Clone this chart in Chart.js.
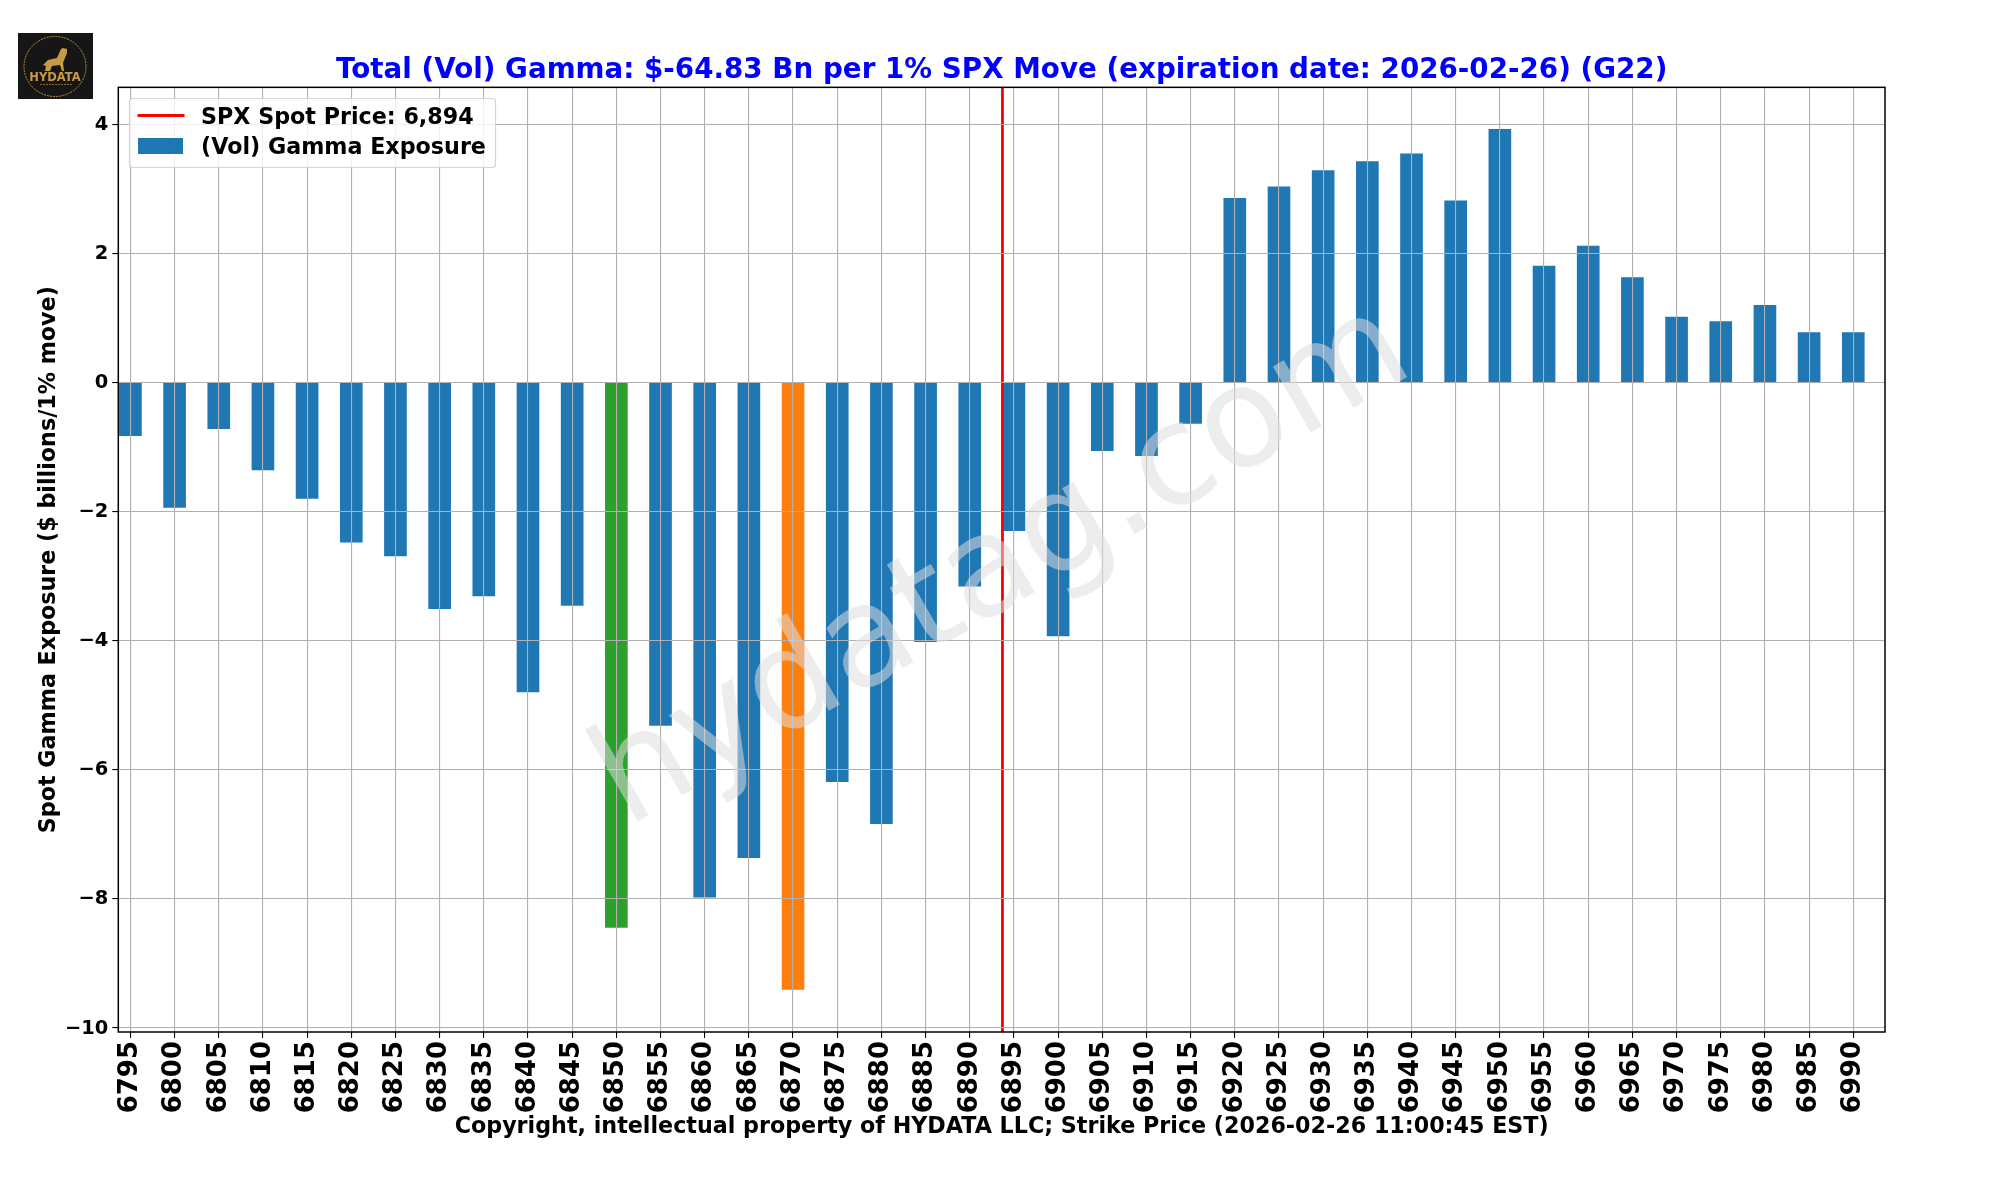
<!DOCTYPE html>
<html>
<head>
<meta charset="utf-8">
<title>Total (Vol) Gamma</title>
<style>
  html, body { margin: 0; padding: 0; background: #fff; }
  #wrap { width: 2000px; height: 1200px; }
</style>
<script src="https://cdn.jsdelivr.net/npm/chart.js@4"></script>
</head>
<body>
<div id="wrap"><canvas id="myChart" width="2000" height="1200"></canvas></div>
<script>
// data
const strikes = [6795, 6800, 6805, 6810, 6815, 6820, 6825, 6830, 6835, 6840,
  6845, 6850, 6855, 6860, 6865, 6870, 6875, 6880, 6885, 6890,
  6895, 6900, 6905, 6910, 6915, 6920, 6925, 6930, 6935, 6940,
  6945, 6950, 6955, 6960, 6965, 6970, 6975, 6980, 6985, 6990];
const gammaValues = [-0.83, -1.94, -0.72, -1.36, -1.8, -2.48, -2.69, -3.51, -3.31, -4.8,
  -3.46, -8.45, -5.32, -7.98, -7.37, -9.41, -6.19, -6.84, -4.02, -3.16,
  -2.3, -3.93, -1.06, -1.14, -0.64, 2.85, 3.03, 3.28, 3.42, 3.54,
  2.81, 3.92, 1.8, 2.11, 1.62, 1.01, 0.94, 1.19, 0.77, 0.77];
const yTicks = [-10, -8, -6, -4, -2, 0, 2, 4];
const spotX = [6893.7, 6893.7];
const spotY = [-10.07, 4.57];
const minStrike = 6850;
const maxStrike = 6870;

const titleText = "Total (Vol) Gamma: $-64.83 Bn per 1% SPX Move (expiration date: 2026-02-26) (G22)";
const xTitle = "Copyright, intellectual property of HYDATA LLC; Strike Price (2026-02-26 11:00:45 EST)";
const yTitle = "Spot Gamma Exposure ($ billions/1% move)";
const spotLabel = "SPX Spot Price: 6,894";
const barLabel = "(Vol) Gamma Exposure";

const FONT = "'DejaVu Sans'";
const BLUE = "#1f77b4";

let barColors = strikes.map(s => s === minStrike ? "#2ca02c" : s === maxStrike ? "#ff7f0e" : BLUE);

// frame, logo, legend and watermark go on top of the chart
const overlay = {
  id: "overlay",
  afterDraw(chart) {
    const c = chart.ctx;
    const a = chart.chartArea;
    c.save();

    // spines
    c.strokeStyle = "#000";
    c.lineWidth = 1.5;
    c.strokeRect(a.left, a.top, a.right - a.left, a.bottom - a.top);

    // legend
    c.beginPath();
    c.roundRect(129.5, 98.5, 366, 69, 3);
    c.fillStyle = "rgba(255,255,255,0.8)";
    c.fill();
    c.strokeStyle = "rgba(204,204,204,0.8)";
    c.lineWidth = 1.2;
    c.stroke();
    c.strokeStyle = "#ff0000";
    c.lineWidth = 2.8;
    c.beginPath();
    c.moveTo(137.5, 115.5);
    c.lineTo(184.5, 115.5);
    c.stroke();
    c.fillStyle = BLUE;
    c.fillRect(138, 138, 45, 16);
    c.fillStyle = "#000";
    c.font = "bold 22.22px " + FONT;
    c.textAlign = "left";
    c.textBaseline = "middle";
    c.fillText(spotLabel, 201, 118);
    c.fillText(barLabel, 201, 148);

    // logo
    c.fillStyle = "#161616";
    c.fillRect(18, 33, 75, 66);
    c.strokeStyle = "#b8923f";
    c.lineWidth = 1;
    c.setLineDash([2, 1]);
    c.beginPath();
    c.ellipse(55, 66.5, 31, 30, 0, 0, Math.PI * 2);
    c.stroke();
    c.setLineDash([]);
    c.fillStyle = "#c79a45";
    c.beginPath();
    [[43, 65], [48, 60], [57, 58], [61, 49], [63, 48], [67, 49], [67, 53], [65, 58],
     [63, 63], [64, 71], [62, 71], [60, 65], [52, 66], [50, 71], [45, 71], [46, 66]]
      .forEach((p, i) => i ? c.lineTo(p[0], p[1]) : c.moveTo(p[0], p[1]));
    c.closePath();
    c.fill();
    c.font = "bold 11.5px " + FONT;
    c.textAlign = "center";
    c.fillText("HYDATA", 55, 78);
    c.strokeStyle = "#8a6d33";
    c.setLineDash([2, 1]);
    c.beginPath();
    c.moveTo(40, 84.5);
    c.lineTo(72, 84.5);
    c.stroke();
    c.setLineDash([]);

    // watermark
    c.translate(1004, 568);
    c.rotate(-30 * Math.PI / 180);
    c.fillStyle = "rgba(222,222,222,0.54)";
    c.font = "139px " + FONT;
    c.textAlign = "center";
    c.fillText("hydatag.com", 0, 0);
    c.restore();
  }
};

new Chart("myChart", {
  type: "bar",
  data: {
    datasets: [{
      type: "line",
      label: spotLabel,
      data: spotX.map((x, i) => ({ x: x, y: spotY[i] })),
      borderColor: "#ff0000",
      borderWidth: 2.8,
      pointRadius: 0,
      order: 0
    }, {
      label: barLabel,
      data: strikes.map((s, i) => ({ x: s, y: gammaValues[i] })),
      backgroundColor: barColors,
      barThickness: 22,
      order: 1
    }]
  },
  plugins: [overlay],
  options: {
    responsive: false,
    animation: false,
    devicePixelRatio: 1,
    layout: { padding: { left: 0, right: 115, top: 0, bottom: 0 } },
    plugins: {
      legend: { display: false },
      tooltip: { enabled: false },
      title: {
        display: true,
        text: titleText,
        color: "#0000ff",
        fullSize: false,
        font: { family: FONT, size: 27.78, weight: "bold", lineHeight: 1.2 },
        padding: { top: 54, bottom: 0 }
      }
    },
    scales: {
      x: {
        type: "linear",
        offset: false,
        min: 6793.63,
        max: 6993.59,
        afterBuildTicks: axis => { axis.ticks = strikes.map(s => ({ value: s })); },
        afterFit: axis => { axis.height = 168; },
        grid: { offset: false, color: "#b0b0b0", lineWidth: 1.1, tickColor: "#000", tickLength: 6, z: 1 },
        border: { display: false },
        ticks: {
          autoSkip: false,
          minRotation: 90,
          maxRotation: 90,
          padding: 3,
          labelOffset: 0,
          color: "#000",
          font: { family: FONT, size: 26, weight: "bold" },
          callback: v => String(v)
        },
        title: {
          display: true,
          text: xTitle,
          color: "#000",
          font: { family: FONT, size: 22.22, weight: "bold", lineHeight: 1.2 },
          padding: { top: 0, bottom: 59 }
        }
      },
      y: {
        min: spotY[0],
        max: spotY[1],
        afterBuildTicks: axis => { axis.ticks = yTicks.map(v => ({ value: v })); },
        afterFit: axis => { axis.width = 118.3; },
        grid: { color: "#b0b0b0", lineWidth: 1.1, tickColor: "#000", tickLength: 6, z: 1 },
        border: { display: false },
        ticks: {
          padding: 4,
          labelOffset: 1,
          color: "#000",
          font: { family: FONT, size: 19.44, weight: "bold" },
          callback: v => String(v).replace("-", "\u2212")
        },
        title: {
          display: true,
          text: yTitle,
          color: "#000",
          font: { family: FONT, size: 22.22, weight: "bold", lineHeight: 1.2 },
          padding: { top: 36, bottom: 0 }
        }
      }
    }
  }
});
</script>
</body>
</html>
